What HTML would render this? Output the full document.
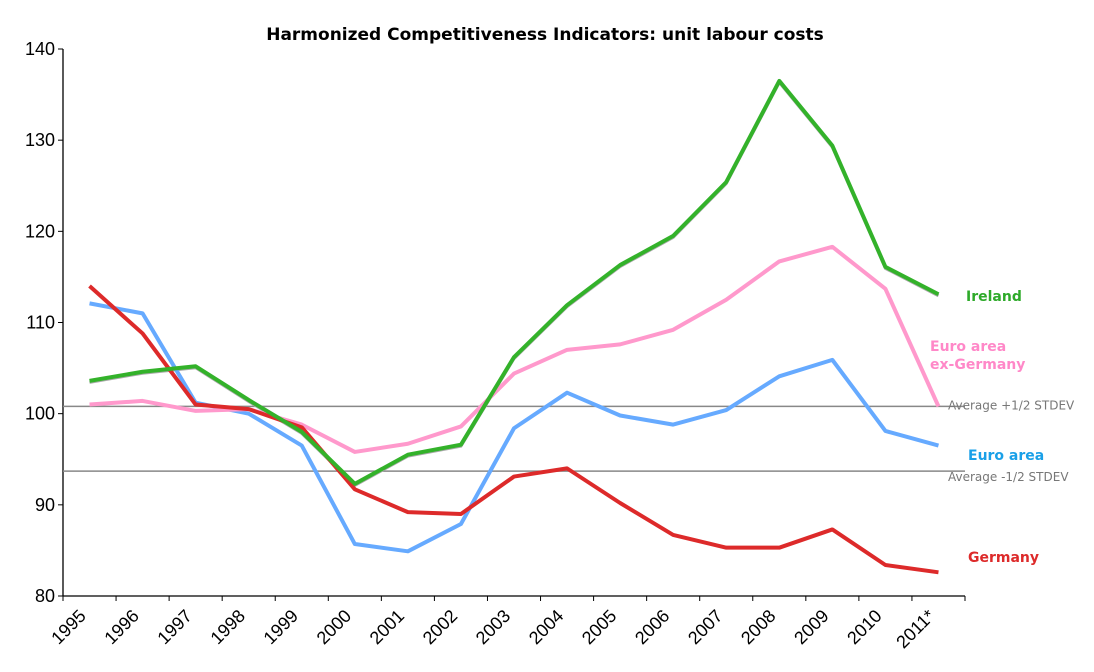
<!DOCTYPE html>
<html><head><meta charset="utf-8"><style>
body{margin:0;background:#fff;}
svg{display:block;font-family:"Liberation Sans","DejaVu Sans",sans-serif;}
</style></head><body>
<svg id="chart" width="1094" height="672">
<text x="545" y="40" text-anchor="middle" font-size="17" font-weight="bold" font-family="DejaVu Sans, sans-serif">Harmonized Competitiveness Indicators: unit labour costs</text>
<g id="axes"></g><g id="lines"></g>
</svg>
<script>
const categories=["1995","1996","1997","1998","1999","2000","2001","2002","2003","2004","2005","2006","2007","2008","2009","2010","2011*"];
const yTicks=[80,90,100,110,120,130,140];
const ireland=[103.6,104.6,105.2,101.5,98.0,92.3,95.5,96.6,106.2,111.9,116.3,119.5,125.4,136.5,129.4,116.1,113.1];
const exGermany=[101.0,101.4,100.3,100.5,98.8,95.8,96.7,98.6,104.4,107.0,107.6,109.2,112.5,116.7,118.3,113.7,100.8];
const euroArea=[112.1,111.0,101.2,100.0,96.5,85.7,84.9,87.9,98.4,102.3,99.8,98.8,100.4,104.1,105.9,98.1,96.5];
const germany=[114.0,108.8,101.0,100.5,98.5,91.7,89.2,89.0,93.1,94.0,90.2,86.7,85.3,85.3,87.3,83.4,82.6];
const refLines=[100.8,93.7];
const refLabels=["Average +1/2 STDEV","Average -1/2 STDEV"];
const NS="http://www.w3.org/2000/svg";
const X0=63,X1=965,Y0=596,Y1=49,ymin=80,ymax=140;
const step=(X1-X0)/categories.length;
const x=i=>X0+step*(i+0.5);
const y=v=>Y0-(v-ymin)/(ymax-ymin)*(Y0-Y1);
function mk(t,a,p){const e=document.createElementNS(NS,t);for(const k in a)e.setAttribute(k,a[k]);p.appendChild(e);return e;}
const ax=document.getElementById('axes'),ln=document.getElementById('lines');
const yl=mk('line',{x1:X0,x2:X0,y1:Y1,y2:Y0,stroke:'#000','stroke-width':1.3},ax);


const xl=mk('line',{x1:X0,x2:X1,y1:Y0,y2:Y0,stroke:'#000','stroke-width':1.3},ax);


yTicks.forEach(v=>{
 mk('line',{x1:X0-5,x2:X0,y1:y(v),y2:y(v),stroke:'#000'},ax);
 const t=mk('text',{x:X0-8,y:y(v)+6,'text-anchor':'end','font-size':18},ax);t.textContent=v;
 
 
});
for(let i=0;i<=categories.length;i++)mk('line',{x1:X0+step*i,x2:X0+step*i,y1:Y0,y2:Y0+5,stroke:'#000'},ax);
categories.forEach((c,i)=>{
 const tx=X0+step*i+24,ty=617;
 const t=mk('text',{x:tx,y:ty,'text-anchor':'end','font-size':18,transform:`rotate(-45 ${tx} ${ty})`},ax);t.textContent=c;
 
 
});
refLines.forEach((v,k)=>{
 const l=mk('line',{x1:X0,x2:X1,y1:y(v),y2:y(v),stroke:'#888','stroke-width':1.5},ln);
 
 
 const t=mk('text',{x:948,y:y(v)+(k==0?3:10),'font-size':12,fill:'#777','font-family':'DejaVu Sans, sans-serif'},ln);t.textContent=refLabels[k];
 
 
});
function pts(d,dy){return d.map((v,i)=>x(i)+','+(y(v)+dy)).join(' ');}
const sh=mk('polyline',{points:pts(ireland,1.5),fill:'none',stroke:'#aaa','stroke-width':3},ln);


const series=[[euroArea,'#66aaff','euro-area-line'],[exGermany,'#ff99cc','euro-ex-germany-line'],[germany,'#dd2a2a','germany-line'],[ireland,'#33b22a','ireland-line']];
series.forEach(s=>{
 const p=mk('polyline',{points:pts(s[0],0),fill:'none',stroke:s[1],'stroke-width':4,'stroke-linejoin':'round'},ln);
 
 
});
const labs=[["Ireland",966,301,'#2eaa2a'],["Euro area",930,351,'#ff88c8'],["ex-Germany",930,369,'#ff88c8'],["Euro area",968,460,'#1aa0e8'],["Germany",968,562,'#dd2a2a']];
labs.forEach(l=>{
 const t=mk('text',{x:l[1],y:l[2],'font-size':14,'font-weight':'bold',fill:l[3],'font-family':'DejaVu Sans, sans-serif'},ln);t.textContent=l[0];
 
 
});
</script>
</body></html>
